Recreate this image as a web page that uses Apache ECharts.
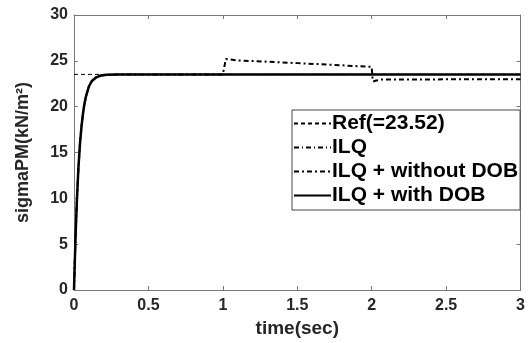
<!DOCTYPE html>
<html>
<head>
<meta charset="utf-8">
<script src="https://cdn.jsdelivr.net/npm/echarts@6/dist/echarts.min.js"></script>
<style>
  html, body { margin: 0; padding: 0; background: #fff; }
  #chart { width: 528px; height: 343px; }
</style>
</head>
<body>
<div id="chart"></div>
<script>
const REF_VALUE = 23.52;

// rise of the controlled output
const riseTime = [0, 0.005, 0.01, 0.015, 0.02, 0.03, 0.04, 0.05, 0.06, 0.07, 0.08, 0.1, 0.12, 0.15, 0.18, 0.22, 0.3];
const riseValue = [0, 2.9, 5.6, 7.9, 10.0, 13.4, 15.9, 17.8, 19.2, 20.3, 21.1, 22.2, 22.8, 23.2, 23.4, 23.48, 23.52];

// ILQ + with DOB after the rise
const withDobTime = [1.0, 2.0, 3.0];
const withDobValue = [23.52, 23.52, 23.52];

// ILQ + without DOB after the rise (disturbance at t=1 and t=2)
const withoutDobTime = [1.0, 1.02, 1.1, 1.3, 1.5, 1.7, 1.9, 2.0, 2.005, 2.01, 2.03, 2.06, 2.5, 3.0];
const withoutDobValue = [23.52, 25.2, 25.05, 24.9, 24.75, 24.6, 24.42, 24.35, 23.2, 22.75, 22.85, 22.95, 22.98, 23.0];

const refTime = [0, 3];

const xTicks = [0, 3, 0.5];
const yTicks = [0, 30, 5];

const seriesNames = ["Ref(=23.52)", "ILQ", "ILQ + without DOB", "ILQ + with DOB"];

function pairs(ts, vs) {
  return ts.map((t, i) => [t, vs[i]]);
}

const risePairs = pairs(riseTime, riseValue);
const refData = refTime.map((t) => [t, REF_VALUE]);
const ilqData = risePairs.concat([[3, REF_VALUE]]);
const withoutDobData = risePairs.concat(pairs(withoutDobTime, withoutDobValue));
const withDobData = risePairs.concat(pairs(withDobTime, withDobValue));

const FONT = "Liberation Sans";
const TEXT = "#262626";
const AXIS = "#777";

const chart = echarts.init(document.getElementById("chart"));

const baseX = {
  type: "value",
  min: xTicks[0],
  max: xTicks[1],
  interval: xTicks[2],
  splitLine: { show: false },
  axisLine: { onZero: false, lineStyle: { color: AXIS, width: 1 } },
  axisTick: { inside: true, length: 4, lineStyle: { color: AXIS } },
};
const baseY = {
  type: "value",
  min: yTicks[0],
  max: yTicks[1],
  interval: yTicks[2],
  splitLine: { show: false },
  axisLine: { onZero: false, lineStyle: { color: AXIS, width: 1 } },
  axisTick: { inside: true, length: 4, lineStyle: { color: AXIS } },
};

function lineSeries(name, data, width, dash) {
  return {
    name: name,
    type: "line",
    data: data,
    symbol: "none",
    color: "#000",
    itemStyle: { color: "#000" },
    lineStyle: { color: "#000", width: width, type: dash },
  };
}

chart.setOption({
  animation: false,
  grid: { left: 74, right: 4, top: 15, bottom: 46 },
  xAxis: [
    Object.assign({}, baseX, {
      position: "bottom",
      name: "time(sec)",
      nameLocation: "middle",
      nameGap: 29,
      nameTextStyle: { fontFamily: FONT, fontWeight: "bold", fontSize: 19, color: TEXT },
      axisLabel: { fontFamily: FONT, fontWeight: "bold", fontSize: 16, color: TEXT, margin: 8 },
    }),
    Object.assign({}, baseX, { position: "top", axisLabel: { show: false } }),
  ],
  yAxis: [
    Object.assign({}, baseY, {
      position: "left",
      name: "sigmaPM(kN/m²)",
      nameLocation: "middle",
      nameGap: 42,
      nameTextStyle: { fontFamily: FONT, fontWeight: "bold", fontSize: 18, color: TEXT },
      axisLabel: { fontFamily: FONT, fontWeight: "bold", fontSize: 16, color: TEXT, margin: 6 },
    }),
    Object.assign({}, baseY, { position: "right", axisLabel: { show: false } }),
  ],
  legend: {
    orient: "vertical",
    left: 292,
    top: 110,
    data: seriesNames,
    itemWidth: 37,
    itemHeight: 14,
    itemGap: 3,
    padding: [3, 2, 4, 1],
    borderColor: "#444",
    borderWidth: 1,
    backgroundColor: "#fff",
    itemStyle: { opacity: 0 },
    textStyle: { fontFamily: FONT, fontWeight: "bold", fontSize: 21, lineHeight: 20, color: "#000", padding: [0, 0, 0, -4] },
  },
  series: [
    lineSeries(seriesNames[0], refData, 1, [4, 3]),
    lineSeries(seriesNames[1], ilqData, 1, [5, 3, 1, 3]),
    lineSeries(seriesNames[2], withoutDobData, 2, [5, 3, 2, 3]),
    lineSeries(seriesNames[3], withDobData, 2.5, "solid"),
  ],
});
</script>
</body>
</html>
